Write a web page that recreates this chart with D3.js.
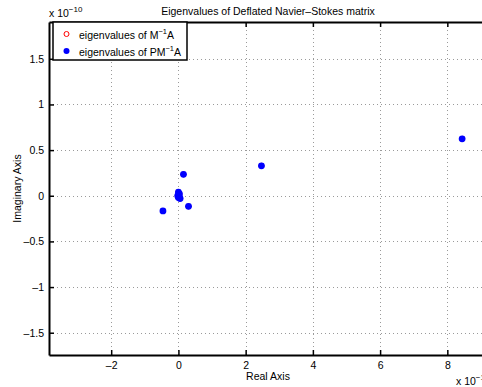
<!DOCTYPE html>
<html>
<head>
<meta charset="utf-8">
<script src="https://cdn.jsdelivr.net/npm/d3@7"></script>
<style>
  body { margin: 0; background: #fff; }
  text { font-family: "Liberation Sans", Arial, Helvetica, sans-serif; fill: #000; }
</style>
</head>
<body>
<svg id="chart" width="482" height="387"></svg>
<script>
// Eigenvalues (real parts in units of 1e-11, imaginary parts in units of 1e-10)
const realPM = [8.44, 2.47, 0.15, -0.46, 0.30, 0.00, 0.03, -0.02, 0.02, 0.05, 0.00];
const imagPM = [0.624, 0.328, 0.235, -0.166, -0.116, 0.04, 0.02, 0.00, -0.01, -0.03, -0.02];
const realM = realPM.slice();
const imagM = imagPM.slice();

const xTicks = [-2, 0, 2, 4, 6, 8];
const yTicks = [-1.5, -1, -0.5, 0, 0.5, 1, 1.5];
const xDomain = [-3.85, 9.18];
const yDomain = [-1.744, 1.903];

const titleText = "Eigenvalues of Deflated Navier\u2013Stokes matrix";
const xLabel = "Real Axis";
const yLabel = "Imaginary Axis";

const svg = d3.select("#chart");
const L = 49, R = 487, T = 22, B = 355;

const x = d3.scaleLinear().domain(xDomain).range([L, R]);
const y = d3.scaleLinear().domain(yDomain).range([B, T]);

const fmt = v => (v < 0 ? "\u2013" : "") + String(Math.abs(v));

// grid
const grid = svg.append("g").attr("stroke", "#9a9a9a").attr("stroke-width", 1)
  .attr("stroke-dasharray", "1,3");
grid.selectAll(".gx").data(xTicks).join("line")
  .attr("x1", d => Math.round(x(d)) + 0.5).attr("x2", d => Math.round(x(d)) + 0.5)
  .attr("y1", T).attr("y2", B);
grid.selectAll(".gy").data(yTicks).join("line")
  .attr("y1", d => Math.round(y(d)) + 0.5).attr("y2", d => Math.round(y(d)) + 0.5)
  .attr("x1", L).attr("x2", R);

// data points: M^-1 A (open red circles) under PM^-1 A (filled blue)
svg.append("g").selectAll("circle").data(realM.map((r, i) => [r, imagM[i]])).join("circle")
  .attr("cx", d => x(d[0])).attr("cy", d => y(d[1])).attr("r", 2.5)
  .attr("fill", "none").attr("stroke", "#ff0000").attr("stroke-width", 1);
svg.append("g").selectAll("circle").data(realPM.map((r, i) => [r, imagPM[i]])).join("circle")
  .attr("cx", d => x(d[0])).attr("cy", d => y(d[1])).attr("r", 3.4)
  .attr("fill", "#0000ff");

// axes (MATLAB-style inward ticks, boxed)
const tickLen = 5;
const axB = svg.append("g").attr("transform", `translate(0,${B})`)
  .call(d3.axisBottom(x).tickValues(xTicks).tickSizeInner(-tickLen).tickSizeOuter(0).tickPadding(7).tickFormat(fmt));
const axT = svg.append("g").attr("transform", `translate(0,${T})`)
  .call(d3.axisTop(x).tickValues(xTicks).tickSizeInner(-tickLen).tickSizeOuter(0).tickFormat(""));
const axL = svg.append("g").attr("transform", `translate(${L},0)`)
  .call(d3.axisLeft(y).tickValues(yTicks).tickSizeInner(-tickLen).tickSizeOuter(0).tickPadding(5).tickFormat(fmt));
const axR = svg.append("g").attr("transform", `translate(${R},0)`)
  .call(d3.axisRight(y).tickValues(yTicks).tickSizeInner(-tickLen).tickSizeOuter(0).tickFormat(""));
[axB, axT, axL, axR].forEach(a => {
  a.select(".domain").attr("stroke", "#000").attr("stroke-width", 2);
  a.selectAll(".tick line").attr("stroke", "#000").attr("stroke-width", 1.5);
  a.selectAll("text").attr("font-size", 10.5).attr("font-family", "Liberation Sans, Arial, sans-serif").attr("fill", "#000");
});

// title and axis labels
svg.append("text").attr("x", (L + R) / 2).attr("y", 15).attr("text-anchor", "middle")
  .attr("font-size", 10.5).text(titleText);
svg.append("text").attr("x", (L + R) / 2).attr("y", 380).attr("text-anchor", "middle")
  .attr("font-size", 10.5).text(xLabel);
svg.append("text").attr("transform", `translate(21,${(T + B) / 2}) rotate(-90)`)
  .attr("text-anchor", "middle").attr("font-size", 10.5).text(yLabel);

// exponent multipliers
function expo(px, py, e) {
  const t = svg.append("text").attr("x", px).attr("y", py).attr("font-size", 10.5);
  t.append("tspan").text("x 10");
  t.append("tspan").attr("dy", -5).attr("font-size", 8).text(e);
}
expo(49, 17, "\u221210");
expo(456, 385, "\u221211");

// legend
const lg = svg.append("g");
lg.append("rect").attr("x", 53).attr("y", 22).attr("width", 134).attr("height", 38)
  .attr("fill", "#fff").attr("stroke", "#000").attr("stroke-width", 1.5);
lg.append("circle").attr("cx", 66.5).attr("cy", 34).attr("r", 2.5)
  .attr("fill", "none").attr("stroke", "#ff0000").attr("stroke-width", 1);
lg.append("circle").attr("cx", 66.5).attr("cy", 51).attr("r", 3)
  .attr("fill", "#0000ff");
function legText(py, pre) {
  const t = lg.append("text").attr("x", 79).attr("y", py).attr("font-size", 10.5);
  t.append("tspan").text(pre);
  t.append("tspan").attr("dy", -5).attr("font-size", 7.5).text("\u22121");
  t.append("tspan").attr("dy", 5).text("A");
}
legText(38.5, "eigenvalues of M");
legText(55.5, "eigenvalues of PM");
</script>
</body>
</html>
